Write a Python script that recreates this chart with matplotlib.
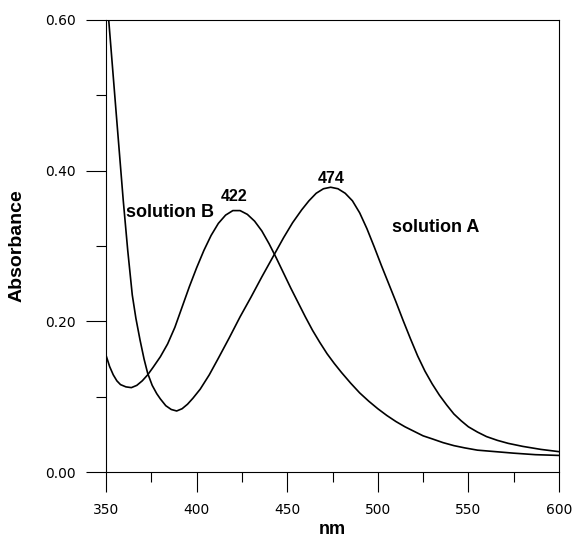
import matplotlib
matplotlib.use("Agg")
import matplotlib.pyplot as plt
from matplotlib.ticker import MultipleLocator

# solution A (steep UV edge, band at 474 nm)
nm_a = [351.5, 355.5, 359.5, 362, 364.5, 366.5, 368.8, 371, 373, 375.5, 378, 380,
        383, 386, 389, 392, 395, 398, 402, 407, 412, 418, 424, 430, 436, 442, 448,
        453, 458, 462, 466, 470, 474, 478, 482, 486, 490, 494, 498, 502, 506, 510,
        514, 518, 522, 526, 530, 534, 538, 542, 546, 550, 555, 560, 566, 572, 580,
        590, 600]
abs_a = [0.600, 0.480, 0.361, 0.294, 0.235, 0.204, 0.175, 0.150, 0.131, 0.115, 0.104,
         0.097, 0.088, 0.083, 0.081, 0.084, 0.090, 0.098, 0.110, 0.129, 0.151, 0.178,
         0.206, 0.232, 0.259, 0.285, 0.311, 0.331, 0.348, 0.360, 0.370, 0.376, 0.378,
         0.376, 0.370, 0.360, 0.344, 0.323, 0.299, 0.274, 0.250, 0.226, 0.201, 0.177,
         0.154, 0.134, 0.117, 0.102, 0.089, 0.077, 0.068, 0.060, 0.053, 0.047, 0.042,
         0.038, 0.034, 0.030, 0.027]

# solution B (band at 422 nm)
nm_b = [350, 352, 354, 356, 358, 361, 364, 367, 370, 373, 376, 380, 384, 388, 392,
        396, 400, 404, 408, 412, 416, 420, 424, 428, 432, 436, 440, 444, 448, 452,
        456, 460, 464, 468, 472, 476, 480, 485, 490, 495, 500, 505, 510, 515, 520,
        525, 530, 536, 542, 548, 555, 565, 575, 587, 600]
abs_b = [0.155, 0.140, 0.129, 0.121, 0.116, 0.113, 0.112, 0.115, 0.121, 0.129, 0.139,
         0.153, 0.170, 0.192, 0.219, 0.246, 0.271, 0.294, 0.314, 0.330, 0.341, 0.347,
         0.347, 0.342, 0.333, 0.320, 0.303, 0.284, 0.264, 0.244, 0.225, 0.206, 0.188,
         0.172, 0.157, 0.144, 0.132, 0.118, 0.105, 0.094, 0.084, 0.075, 0.067, 0.060,
         0.054, 0.048, 0.044, 0.039, 0.035, 0.032, 0.029, 0.027, 0.025, 0.023, 0.022]

bold = dict(family=["Liberation Sans", "DejaVu Sans"], fontweight="bold")

fig = plt.figure(figsize=(5.74, 5.40), dpi=100)
ax = fig.add_axes([106/574, 1-472/540, (559-106)/574, (472-20)/540])

ax.plot(nm_a, abs_a, color="black", lw=1.2)
ax.plot(nm_b, abs_b, color="black", lw=1.2)

ax.set_xlim(350, 600)
ax.set_ylim(0, 0.6)
ax.xaxis.set_major_locator(MultipleLocator(50))
ax.xaxis.set_minor_locator(MultipleLocator(25))
ax.yaxis.set_major_locator(MultipleLocator(0.2))
ax.yaxis.set_minor_locator(MultipleLocator(0.1))
ax.yaxis.set_major_formatter(plt.FormatStrFormatter("%.2f"))

ax.tick_params(which="major", direction="out", length=14.4, width=0.8,
               labelsize=10, pad=7.5)
ax.tick_params(which="minor", direction="out", length=7.5, width=0.8)
ax.tick_params(axis="x", which="major", pad=8)
for s in ax.spines.values():
    s.set_linewidth(0.8)

ax.set_xlabel("nm", fontsize=13, labelpad=3, **bold)
ax.set_ylabel("Absorbance", fontsize=14, labelpad=14, **bold)

ax.text(361, 0.345, "solution B", fontsize=13, ha="left", va="center", **bold)
ax.text(508, 0.324, "solution A", fontsize=13, ha="left", va="center", **bold)
ax.text(420.6, 0.366, "422", fontsize=11.5, ha="center", va="center", **bold)
ax.text(474, 0.390, "474", fontsize=11.5, ha="center", va="center", **bold)

fig.savefig("out.png", dpi=100)
